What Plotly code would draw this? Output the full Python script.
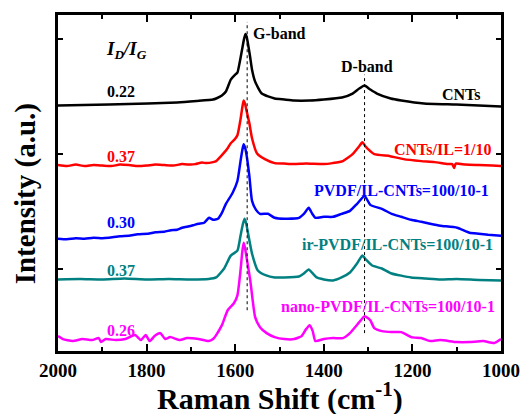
import plotly.graph_objects as go

# ---- data (Raman shift in cm^-1, stacked intensity in a.u.) ----
cnt_x = [2000, 1885, 1797, 1731, 1687, 1650, 1643, 1630, 1621, 1610, 1600, 1595, 1590, 1585, 1580, 1577, 1574, 1570, 1566, 1562, 1555, 1540, 1511, 1489, 1467, 1432, 1400, 1359, 1335, 1320, 1308, 1295, 1280, 1249, 1225, 1174, 1101, 1050, 1000]
cnt_y = [247, 248, 249, 250, 251.5, 253, 254, 257, 261, 273, 278, 280, 290, 302, 314, 319, 316, 306, 295, 283, 271, 259, 254, 253, 252, 252, 253, 255, 259, 264, 267, 263, 259, 254, 252, 249, 248, 247, 246]

il_x = [2000, 1980, 1960, 1940, 1920, 1900, 1880, 1860, 1840, 1820, 1800, 1780, 1760, 1740, 1720, 1700, 1690, 1675, 1665, 1650, 1643, 1630, 1617, 1610, 1601, 1595, 1588, 1584, 1581, 1578, 1575, 1568, 1562, 1551, 1533, 1511, 1490, 1467, 1440, 1400, 1380, 1357, 1335, 1320, 1313, 1306, 1300, 1286, 1250, 1220, 1180, 1150, 1120, 1110, 1106, 1102, 1080, 1050, 1020, 1000]
il_y = [187, 186, 187.5, 186, 187, 186.5, 186, 187.5, 187, 186, 186.5, 187.5, 187, 186.5, 188, 187.5, 188, 189.5, 189, 190, 191, 197, 204, 209, 213, 217, 233, 245, 252, 249, 243, 229, 214, 199, 193, 189, 188.5, 188, 188.5, 188, 189, 191, 198, 206, 210, 206, 203, 198, 196, 193, 191, 190, 188, 188, 184, 188.5, 187.5, 187, 186.5, 186]

pvdf_x = [2000, 1980, 1960, 1940, 1920, 1900, 1885, 1860, 1840, 1820, 1797, 1780, 1760, 1745, 1731, 1720, 1709, 1695, 1683, 1670, 1659, 1650, 1639, 1630, 1621, 1606, 1595, 1588, 1584, 1581, 1578, 1575, 1568, 1562, 1553, 1544, 1526, 1511, 1489, 1456, 1445, 1434, 1426, 1419, 1400, 1379, 1360, 1341, 1325, 1308, 1295, 1269, 1247, 1225, 1203, 1180, 1160, 1137, 1099, 1071, 1050, 1029, 1000]
pvdf_y = [113, 112.5, 113.5, 113, 114, 113.5, 114, 115.5, 116, 117.5, 118, 119.5, 120, 121.5, 122, 124, 125, 126.5, 128, 129, 134, 132, 133, 139, 148, 159, 171, 191, 202, 208, 205, 199, 176, 151, 142, 138, 138, 134, 133, 134, 138, 144, 138, 134, 135, 135, 138, 141, 148, 156, 147, 143, 138, 135, 132, 130, 128, 126, 124, 119, 118, 117, 116]

ir_x = [2000, 1950, 1900, 1850, 1800, 1750, 1700, 1660, 1643, 1625, 1610, 1595, 1588, 1583, 1579, 1575, 1572, 1562, 1549, 1530, 1511, 1489, 1456, 1445, 1434, 1425, 1416, 1400, 1379, 1360, 1341, 1325, 1313, 1305, 1291, 1269, 1247, 1203, 1170, 1137, 1100, 1050, 1000]
ir_y = [72, 72.5, 72, 73, 72, 72.5, 72, 72.5, 74, 83, 96, 101, 116, 127, 133, 128, 121, 98, 81, 76, 74, 74, 75, 78, 82, 78, 74, 72, 71, 74, 79, 88, 96, 92, 86, 83, 78, 74, 73, 72, 72.5, 71.5, 71]

nano_x = [2000, 1989, 1967, 1945, 1923, 1908, 1903, 1892, 1870, 1848, 1826, 1813, 1802, 1793, 1782, 1769, 1758, 1747, 1725, 1709, 1683, 1660, 1650, 1643, 1630, 1617, 1603, 1595, 1588, 1584, 1581, 1578, 1575, 1566, 1555, 1544, 1529, 1511, 1489, 1467, 1450, 1440, 1432, 1425, 1419, 1400, 1379, 1357, 1341, 1320, 1308, 1300, 1295, 1286, 1269, 1247, 1225, 1203, 1180, 1160, 1137, 1100, 1071, 1040, 1015, 1000]
nano_y = [15, 12, 10, 12, 11, 13, 9, 12, 11, 12, 16, 11, 16, 10, 15, 18, 12, 14, 11, 13, 12, 10, 12, 16, 26, 41, 48, 56, 81, 100, 109, 104, 96, 71, 34, 24, 18, 14, 12, 12, 15, 22, 26, 20, 10, 12, 13, 13, 18, 29, 35, 33, 31, 23, 20, 19, 19, 14, 13, 10, 11, 9, 9, 10, 8, 12]

series_names = ["CNTs", "CNTs/IL=1/10", "PVDF/IL-CNTs=100/10-1", "ir-PVDF/IL-CNTs=100/10-1", "nano-PVDF/IL-CNTs=100/10-1"]
series_x = [cnt_x, il_x, pvdf_x, ir_x, nano_x]
series_y = [cnt_y, il_y, pvdf_y, ir_y, nano_y]
colors = ["#000000", "#ff0000", "#0000ff", "#008080", "#ff00ff"]
ratios = ["0.22", "0.37", "0.30", "0.37", "0.26"]

g_band = 1573
d_band = 1308
g_line_y = [41, 331]
d_line_y = [18, 278]

x_ticks = [2000, 1800, 1600, 1400, 1200, 1000]
y_ticks = [82, 198, 314]

FONT = "Liberation Serif"

fig = go.Figure()
for xs, ys, c, n in zip(series_x, series_y, colors, series_names):
    fig.add_trace(go.Scatter(x=xs, y=ys, mode="lines", name=n,
                             line=dict(color=c, width=2.5, shape="spline", smoothing=0.5)))

fig.add_trace(go.Scatter(x=[g_band, g_band], y=g_line_y, mode="lines",
                         line=dict(color="black", width=1, dash="dot")))
fig.add_trace(go.Scatter(x=[d_band, d_band], y=d_line_y, mode="lines",
                         line=dict(color="black", width=1, dash="dot")))

ann = []
def add(text, x, y, color="black", xanchor="center", size=16, italic=False):
    ann.append(dict(text=text, x=x, y=y, xref="x", yref="y", showarrow=False,
                    xanchor=xanchor, yanchor="middle",
                    font=dict(family=FONT, size=size, color=color, weight="bold",
                              style="italic" if italic else "normal")))

# ratio labels (x ~1857 cm-1)
ratio_y = [261, 196, 129, 81, 21]
for r, c, yy in zip(ratios, colors, ratio_y):
    add(r, 1857, yy, c)
add("I<sub>D</sub>/I<sub>G</sub>", 1846, 303, size=19, italic=True)
add("G-band", 1500, 319)
add("D-band", 1302, 286)
add("CNTs", 1090, 258)
label_right = [1018, 1022, 1013, 1009]
label_y = [203, 161, 107, 45]
for n, c, xr, yy in zip(series_names[1:], colors[1:], label_right, label_y):
    add(n, xr, yy, c, xanchor="right")

# axis titles
ann.append(dict(text="Raman Shift (cm<sup>-1</sup>)", x=0.5, y=-0.072, xref="paper", yref="paper",
                xanchor="center", yanchor="top", showarrow=False,
                font=dict(family=FONT, size=30, color="black", weight="bold")))
ann.append(dict(text="Intensity (a.u.)", x=-0.074, y=0.467, xref="paper", yref="paper",
                xanchor="center", yanchor="middle", showarrow=False, textangle=-90,
                font=dict(family=FONT, size=29, color="black", weight="bold")))

fig.update_layout(
    width=532, height=414,
    margin=dict(l=58, r=20, t=13, b=63),
    paper_bgcolor="white", plot_bgcolor="white",
    showlegend=False,
    annotations=ann,
    xaxis=dict(range=[2000, 1000], tickvals=x_ticks, ticktext=[str(v) for v in x_ticks],
               ticks="inside", ticklen=7, tickwidth=2, tickcolor="black",
               minor=dict(dtick=100, ticks="inside", ticklen=4, tickwidth=2, tickcolor="black"),
               showline=True, linewidth=2.5, linecolor="black", mirror="ticks",
               showgrid=False, zeroline=False,
               tickfont=dict(family=FONT, size=19, color="black", weight="bold")),
    yaxis=dict(range=[0, 338], tickvals=y_ticks, showticklabels=False,
               ticks="inside", ticklen=5, tickwidth=1.5, tickcolor="black",
               showline=True, linewidth=2.5, linecolor="black", mirror="ticks",
               showgrid=False, zeroline=False),
)

fig.write_html("out.html")
